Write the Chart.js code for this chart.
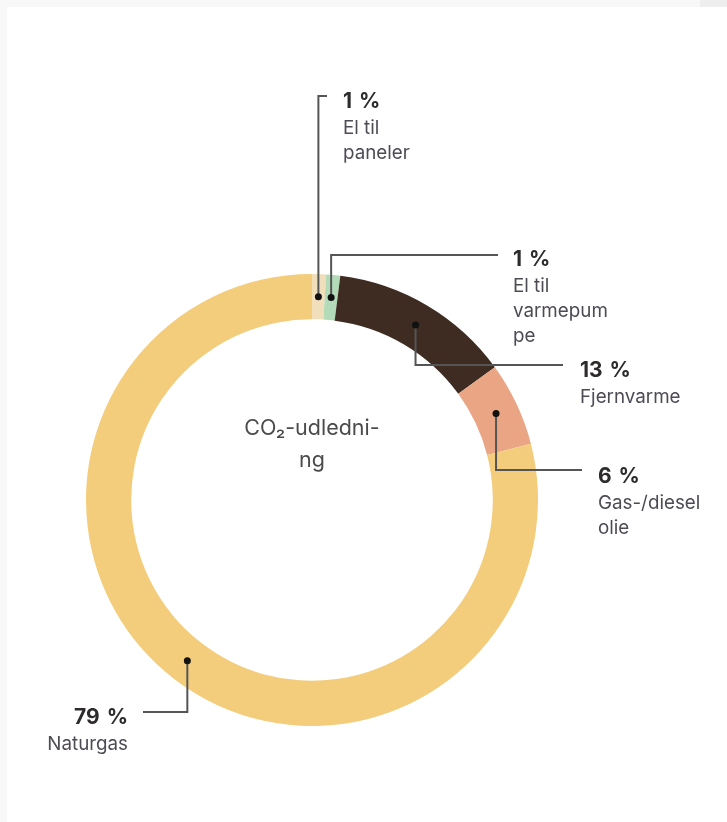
<!DOCTYPE html>
<html>
<head>
<meta charset="utf-8">
<script src="https://cdn.jsdelivr.net/npm/chart.js@4.4.1/dist/chart.umd.min.js"></script>
<style>
  html, body { margin: 0; padding: 0; background: #f8f8f8; width: 727px; height: 822px; overflow: hidden; font-family: Inter, Roboto, "Noto Sans", sans-serif; }
  #panel { position: absolute; left: 7px; top: 7px; width: 720px; height: 815px; background: #ffffff; }
  #corner { position: absolute; left: 700px; top: 0; width: 27px; height: 7px; background: #eeeeee; }
  #c { position: absolute; left: 0; top: 0; }
  .lab { position: absolute; white-space: nowrap; }
  .pct { font-size: 21px; font-weight: 700; line-height: 28px; color: #2e2b2b; word-spacing: 2px; }
  .txt { font-size: 18.8px; line-height: 25px; color: #4f4b55; }
  .right { text-align: right; }
  #center { position: absolute; left: 162px; width: 300px; top: 411px; text-align: center; font-size: 21.5px; line-height: 32px; color: #4a4a4a; }
</style>
</head>
<body>
<div id="panel"></div>
<div id="corner"></div>
<canvas id="c" width="727" height="822"></canvas>
<div id="center">CO₂-udledni-<br>ng</div>
<div id="labels"></div>
<script>
// ---- data ----
const categories = ["El til paneler", "El til varmepumpe", "Fjernvarme", "Gas-/diesel olie", "Naturgas"];
const values = [1, 1, 13, 6, 79];
const pctLabels = ["1 %", "1 %", "13 %", "6 %", "79 %"];
const labelLines = [["El til", "paneler"], ["El til", "varmepum", "pe"], ["Fjernvarme"], ["Gas-/diesel", "olie"], ["Naturgas"]];
const colors = ["#f1dfbb", "#b3dbb8", "#3e2c23", "#e9a584", "#f3cd7c"];

// ---- annotation layout (positions only) ----
const layout = [
  { elbowY: 96,  endX: 327, textX: 343, textY: 87,  align: "left" },
  { elbowY: 255, endX: 498, textX: 513, textY: 245, align: "left" },
  { elbowY: 365, endX: 563, textX: 580, textY: 356, align: "left" },
  { elbowY: 470, endX: 582, textX: 598, textY: 462, align: "left" },
  { elbowY: 712, endX: 143, textX: 128, textY: 703, align: "right" }
];

// HTML labels
const labelsDiv = document.getElementById("labels");
categories.forEach((cat, i) => {
  const L = layout[i];
  const d = document.createElement("div");
  d.className = "lab" + (L.align === "right" ? " right" : "");
  if (L.align === "right") {
    d.style.right = (727 - L.textX) + "px";
  } else {
    d.style.left = L.textX + "px";
  }
  d.style.top = L.textY + "px";
  d.innerHTML = '<div class="pct">' + pctLabels[i] + '</div><div class="txt">' + labelLines[i].join("<br>") + '</div>';
  labelsDiv.appendChild(d);
});

const leaderPlugin = {
  id: "leaders",
  afterDatasetsDraw(chart) {
    const ctx = chart.ctx;
    const meta = chart.getDatasetMeta(0);
    ctx.save();
    meta.data.forEach((arc, i) => {
      const p = arc.getCenterPoint();
      const L = layout[i];
      ctx.strokeStyle = "#555555";
      ctx.lineWidth = 2;
      ctx.beginPath();
      ctx.moveTo(p.x, p.y);
      ctx.lineTo(p.x, L.elbowY);
      ctx.lineTo(L.endX, L.elbowY);
      ctx.stroke();
      ctx.fillStyle = "#111111";
      ctx.beginPath();
      ctx.arc(p.x, p.y, 3.5, 0, Math.PI * 2);
      ctx.fill();
    });
    ctx.restore();
  }
};

new Chart(document.getElementById("c"), {
  type: "doughnut",
  data: {
    labels: categories,
    datasets: [{
      data: values,
      backgroundColor: colors,
      borderWidth: 0,
      hoverOffset: 0
    }]
  },
  options: {
    responsive: false,
    animation: false,
    cutout: "80%",
    layout: { padding: { left: 86, right: 189, top: 274, bottom: 96 } },
    plugins: { legend: { display: false }, tooltip: { enabled: false } }
  },
  plugins: [leaderPlugin]
});
</script>
</body>
</html>
